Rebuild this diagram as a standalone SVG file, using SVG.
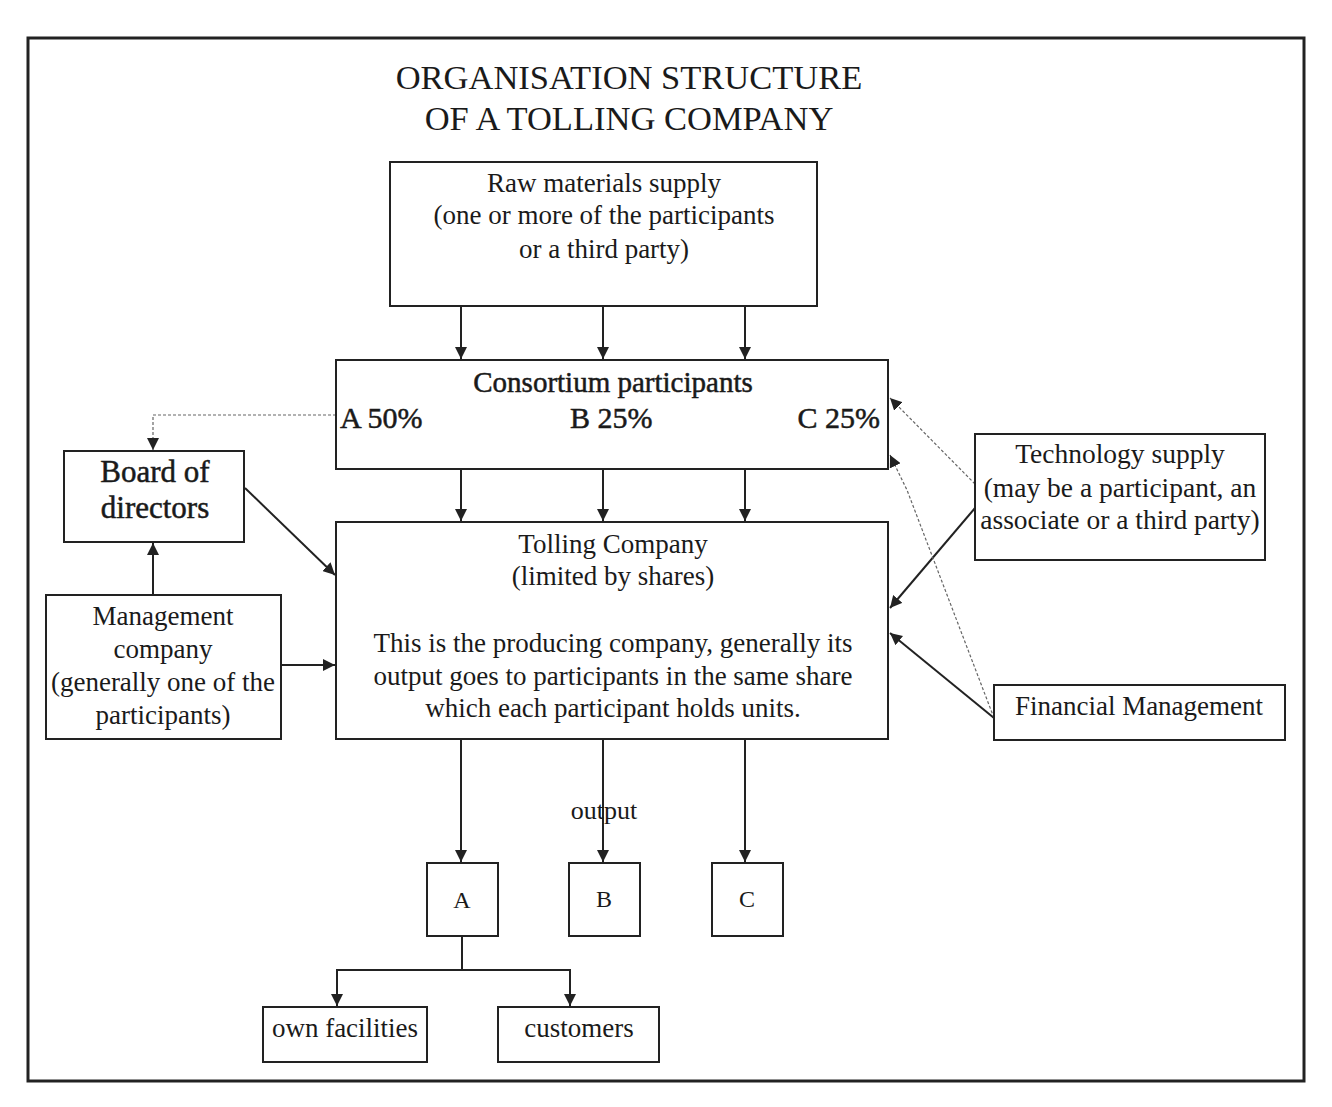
<svg xmlns="http://www.w3.org/2000/svg" width="1332" height="1107" viewBox="0 0 1332 1107">
<defs>
<marker id="ahl" viewBox="0 0 10 10" refX="10" refY="5" markerWidth="12" markerHeight="12" markerUnits="userSpaceOnUse" orient="auto">
<path d="M0,0 L10,5 L0,10 z" fill="#222"/>
</marker>
</defs>
<style>
text{font-family:"Liberation Serif","Times New Roman",serif;fill:#1a1a1a;text-anchor:middle}
.box{fill:#fff;stroke:#222;stroke-width:2}
.c{stroke:#222;stroke-width:2;fill:none}
.d{stroke:#666;stroke-width:1.2;fill:none;stroke-dasharray:3 2}
.t27{font-size:27px}
.hv{stroke:#1a1a1a;stroke-width:0.5}
</style>
<rect x="0" y="0" width="1332" height="1107" fill="#fff"/>
<rect x="28" y="38" width="1276" height="1043" fill="none" stroke="#222" stroke-width="3"/>
<g id="title">
<text x="629" y="89" style="font-size:34.5px">ORGANISATION STRUCTURE</text>
<text x="629" y="130" style="font-size:34.5px">OF A TOLLING COMPANY</text>
</g>
<g id="connectors">
<line class="c" x1="461" y1="306" x2="461" y2="359" marker-end="url(#ahl)"/>
<line class="c" x1="603" y1="306" x2="603" y2="359" marker-end="url(#ahl)"/>
<line class="c" x1="745" y1="306" x2="745" y2="359" marker-end="url(#ahl)"/>
<line class="c" x1="461" y1="469" x2="461" y2="521" marker-end="url(#ahl)"/>
<line class="c" x1="603" y1="469" x2="603" y2="521" marker-end="url(#ahl)"/>
<line class="c" x1="745" y1="469" x2="745" y2="521" marker-end="url(#ahl)"/>
<polyline class="d" points="336,415 153,415 153,450" marker-end="url(#ahl)"/>
<line class="c" x1="245" y1="488" x2="335" y2="575" marker-end="url(#ahl)"/>
<line class="c" x1="153" y1="595" x2="153" y2="543" marker-end="url(#ahl)"/>
<line class="c" x1="281" y1="665" x2="335" y2="665" marker-end="url(#ahl)"/>
<line class="d" x1="975" y1="484" x2="890" y2="398" marker-end="url(#ahl)"/>
<line class="c" x1="975" y1="508" x2="890" y2="608" marker-end="url(#ahl)"/>
<line class="c" x1="994" y1="718" x2="890" y2="633" marker-end="url(#ahl)"/>
<polyline class="d" points="994,718 907,490 890,455" marker-end="url(#ahl)"/>
<line class="c" x1="461" y1="739" x2="461" y2="862" marker-end="url(#ahl)"/>
<line class="c" x1="603" y1="739" x2="603" y2="862" marker-end="url(#ahl)"/>
<line class="c" x1="745" y1="739" x2="745" y2="862" marker-end="url(#ahl)"/>
<polyline class="c" points="462,936 462,970 337,970 337,1006" marker-end="url(#ahl)"/>
<polyline class="c" points="462,970 570,970 570,1006" marker-end="url(#ahl)"/>
</g>
<g id="raw">
<rect class="box" x="390" y="162" width="427" height="144"/>
<text class="t27" x="604" y="192">Raw materials supply</text>
<text class="t27" x="604" y="224">(one or more of the participants</text>
<text class="t27" x="604" y="258">or a third party)</text>
</g>
<g id="consortium">
<rect class="box" x="336" y="360" width="552" height="109"/>
<text class="hv" x="613" y="392" style="font-size:29px">Consortium participants</text>
<text class="hv" x="340" y="428" style="text-anchor:start;font-size:30px">A 50%</text>
<text class="hv" x="570" y="428" style="text-anchor:start;font-size:30px">B 25%</text>
<text class="hv" x="880" y="428" style="text-anchor:end;font-size:30px">C 25%</text>
</g>
<g id="tolling">
<rect class="box" x="336" y="522" width="552" height="217"/>
<text class="t27" x="613" y="553">Tolling Company</text>
<text class="t27" x="613" y="585">(limited by shares)</text>
<text class="t27" x="613" y="652">This is the producing company, generally its</text>
<text class="t27" x="613" y="685">output goes to participants in the same share</text>
<text class="t27" x="613" y="717">which each participant holds units.</text>
</g>
<g id="board">
<rect class="box" x="64" y="451" width="180" height="91"/>
<text class="hv" x="155" y="482" style="font-size:31px">Board of</text>
<text class="hv" x="155" y="518" style="font-size:31px">directors</text>
</g>
<g id="management">
<rect class="box" x="46" y="595" width="235" height="144"/>
<text class="t27" x="163" y="625">Management</text>
<text class="t27" x="163" y="658">company</text>
<text class="t27" x="163" y="691">(generally one of the</text>
<text class="t27" x="163" y="724">participants)</text>
</g>
<g id="technology">
<rect class="box" x="975" y="434" width="290" height="126"/>
<text x="1120" y="463" style="font-size:27.5px">Technology supply</text>
<text x="1120" y="497" style="font-size:27.5px">(may be a participant, an</text>
<text x="1120" y="529" style="font-size:27.5px">associate or a third party)</text>
</g>
<g id="financial">
<rect class="box" x="994" y="685" width="291" height="55"/>
<text class="t27" x="1139" y="715">Financial Management</text>
</g>
<g id="output-label">
<text x="604" y="819" style="font-size:26px">output</text>
</g>
<g id="nodeA">
<rect class="box" x="427" y="863" width="71" height="73"/>
<text x="462" y="908" style="font-size:24px">A</text>
</g>
<g id="nodeB">
<rect class="box" x="569" y="863" width="71" height="73"/>
<text x="604" y="907" style="font-size:24px">B</text>
</g>
<g id="nodeC">
<rect class="box" x="712" y="863" width="71" height="73"/>
<text x="747" y="907" style="font-size:24px">C</text>
</g>
<g id="own">
<rect class="box" x="263" y="1007" width="164" height="55"/>
<text class="t27" x="345" y="1037">own facilities</text>
</g>
<g id="customers">
<rect class="box" x="498" y="1007" width="161" height="55"/>
<text class="t27" x="579" y="1037">customers</text>
</g>
</svg>
